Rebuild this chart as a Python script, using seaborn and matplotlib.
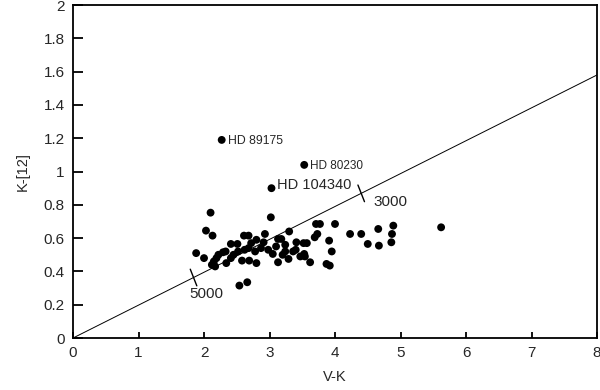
import numpy as np
import pandas as pd
import matplotlib
matplotlib.use("Agg")
import matplotlib.pyplot as plt
import seaborn as sns

# V-K vs K-[12] colour data
vk = [1.88, 2.00, 2.03, 2.10, 2.13, 2.12, 2.15, 2.19, 2.29, 2.34,
      2.41, 2.41, 2.51, 2.52, 2.58, 2.61, 2.68, 2.68, 2.69, 2.80,
      2.80, 2.78, 2.91, 2.93, 2.98, 3.02, 3.05, 3.13, 3.18, 3.13,
      3.24, 3.24, 3.30, 3.29, 3.36, 3.41, 3.52, 3.53, 3.57, 3.54,
      3.62, 3.71, 3.77, 3.73, 3.69, 4.00, 3.91, 3.95, 3.87, 3.92,
      2.54, 2.66, 4.23, 4.40, 4.50, 4.66, 4.67, 4.89, 4.87, 4.86,
      5.62, 2.22, 2.45, 2.62, 2.87, 3.10, 2.33, 2.17, 2.72, 3.40,
      3.47, 3.20]
k12 = [0.51, 0.48, 0.645, 0.753, 0.615, 0.44, 0.46, 0.48, 0.515, 0.45,
       0.565, 0.48, 0.565, 0.52, 0.465, 0.615, 0.615, 0.54, 0.465, 0.59,
       0.45, 0.52, 0.575, 0.625, 0.53, 0.725, 0.505, 0.595, 0.595, 0.455,
       0.56, 0.52, 0.64, 0.475, 0.52, 0.575, 0.57, 0.505, 0.57, 0.49,
       0.455, 0.685, 0.685, 0.625, 0.605, 0.685, 0.585, 0.52, 0.445, 0.435,
       0.315, 0.335, 0.625, 0.625, 0.565, 0.655, 0.555, 0.675, 0.625, 0.575,
       0.665, 0.50, 0.50, 0.53, 0.54, 0.55, 0.52, 0.43, 0.57, 0.53,
       0.49, 0.50]

# labelled stars
named = ["HD 89175", "HD 80230", "HD 104340"]
named_vk = [2.27, 3.53, 3.03]
named_k12 = [1.19, 1.04, 0.90]
named_size = [8.8, 8.5, 10.5]

# blackbody line and temperature marks
line_vk = [0, 8]
line_k12 = [0, 1.58]
temp_labels = ["5000", "3000"]
temp_vk = [1.84, 4.40]

sns.set_style("ticks")
plt.rcParams["font.family"] = ["Liberation Sans", "DejaVu Sans"]

df = pd.DataFrame({"V-K": vk + named_vk, "K-[12]": k12 + named_k12})

fig = plt.figure(figsize=(6, 3.9), dpi=100)
ax = fig.add_axes([0.1217, 0.1333, 0.8733, 0.8537])

slope = line_k12[1] / line_vk[1]
ax.plot(line_vk, line_k12, color="black", lw=0.7)
sns.scatterplot(data=df, x="V-K", y="K-[12]", color="black", s=32,
                edgecolor="none", ax=ax, zorder=3)

for name, x, y, fs in zip(named, named_vk, named_k12, named_size):
    dy = 0.02 if fs > 10 else -0.005
    ax.text(x + 0.09, y + dy, name, fontsize=fs, va="center", ha="left")

# small cross ticks on the line
for lab, x in zip(temp_labels, temp_vk):
    y = slope * x
    ax.plot([x - 0.05, x + 0.05], [y + 0.05, y - 0.05], color="black", lw=1)
    if lab == "5000":
        ax.text(x - 0.06, y - 0.1, lab, fontsize=11, ha="left", va="center")
    else:
        ax.text(x + 0.19, y - 0.05, lab, fontsize=11, ha="left", va="center")

ax.set_xlim(0, 8)
ax.set_ylim(0, 2)
ax.set_xticks(np.arange(0, 9, 1))
ax.set_yticks(np.arange(0, 2.01, 0.2))
ax.set_yticklabels(["0", "0.2", "0.4", "0.6", "0.8", "1", "1.2", "1.4", "1.6", "1.8", "2"])
for sp in ax.spines.values():
    sp.set_visible(True)
    sp.set_linewidth(1.3)
    sp.set_color("black")
ax.set_xlabel("V-K", fontsize=10.5, labelpad=7)
ax.set_ylabel("K-[12]", fontsize=10.5, labelpad=10)
ax.tick_params(axis="both", direction="in", width=1.3, color="black",
               labelsize=11, pad=6)
ax.tick_params(axis="x", length=4)
ax.tick_params(axis="y", length=7.5)

fig.savefig("out.png", dpi=100)
